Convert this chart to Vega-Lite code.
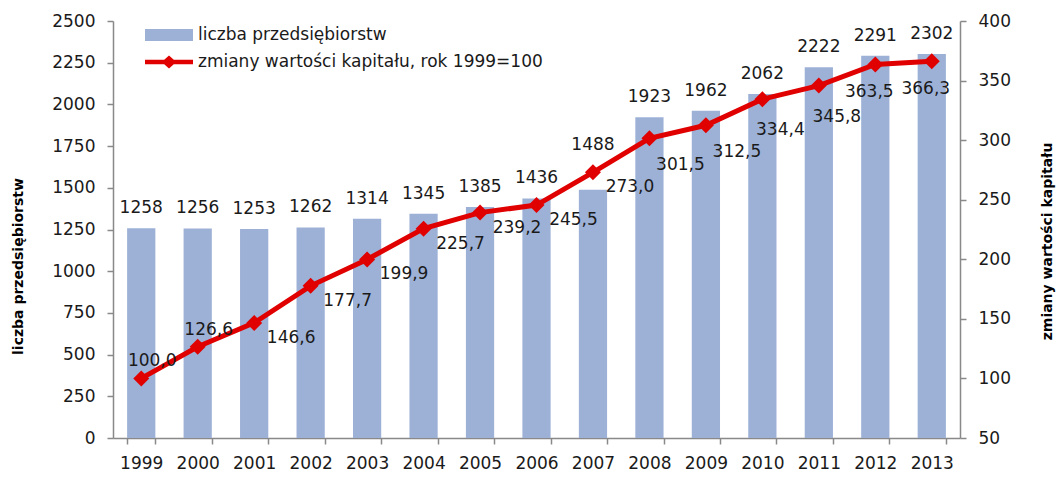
{
  "$schema": "https://vega.github.io/schema/vega-lite/v6.json",
  "width": 847,
  "height": 417,
  "autosize": {"type": "none"},
  "padding": {"left": 113, "top": 21, "right": 97, "bottom": 39},
  "background": "white",
  "config": {
    "view": {"stroke": null},
    "font": "DejaVu Sans",
    "locale": {"number": {"decimal": ",", "thousands": "", "grouping": [3], "currency": ["", " zł"]}},
    "axis": {
      "domainColor": "#898989", "tickColor": "#898989", "domainWidth": 1.5, "tickWidth": 1.5,
      "tickSize": 6, "grid": false, "labelFont": "DejaVu Sans", "labelFontSize": 17,
      "labelColor": "#1a1a1a", "titleFont": "DejaVu Sans", "titleFontSize": 14, "titleFontWeight": "bold", "titleColor": "#000"
    },
    "legend": {"labelFont": "DejaVu Sans", "labelFontSize": 17, "labelColor": "#1a1a1a", "padding": 0, "title": null, "labelLimit": 0}
  },
  "data": {"values": [
    {"year": "1999", "firms": 1258, "capital": 100.0},
    {"year": "2000", "firms": 1256, "capital": 126.6},
    {"year": "2001", "firms": 1253, "capital": 146.6},
    {"year": "2002", "firms": 1262, "capital": 177.7},
    {"year": "2003", "firms": 1314, "capital": 199.9},
    {"year": "2004", "firms": 1345, "capital": 225.7},
    {"year": "2005", "firms": 1385, "capital": 239.2},
    {"year": "2006", "firms": 1436, "capital": 245.5},
    {"year": "2007", "firms": 1488, "capital": 273.0},
    {"year": "2008", "firms": 1923, "capital": 301.5},
    {"year": "2009", "firms": 1962, "capital": 312.5},
    {"year": "2010", "firms": 2062, "capital": 334.4},
    {"year": "2011", "firms": 2222, "capital": 345.8},
    {"year": "2012", "firms": 2291, "capital": 363.5},
    {"year": "2013", "firms": 2302, "capital": 366.3}
  ]},
  "encoding": {
    "x": {
      "field": "year", "type": "ordinal",
      "scale": {"paddingInner": 0.5, "paddingOuter": 0.25},
      "axis": {"title": null, "labelAngle": 0, "tickBand": "extent", "labelPadding": 11, "tickSize": 6}
    }
  },
  "layer": [
    {
      "encoding": {
        "y": {"field": "firms", "type": "quantitative",
          "scale": {"domain": [0, 2500], "nice": false, "zero": true},
          "axis": {"orient": "left", "values": [0,250,500,750,1000,1250,1500,1750,2000,2250,2500],
            "title": "liczba przedsiębiorstw", "titleAngle": -90, "titleX": -95, "titleY": 245, "titleBaseline": "middle", "labelPadding": 12}}
      },
      "layer": [
        {
          "mark": {"type": "bar"},
          "encoding": {
            "color": {"datum": "liczba przedsiębiorstw", "type": "nominal",
              "scale": {"range": ["#9DB1D6"]},
              "legend": {"orient": "none", "legendX": 32, "legendY": -10, "symbolType": "M-1,-0.25H1V0.25H-1Z", "symbolSize": 2304, "symbolStrokeWidth": 0, "labelOffset": 5}}
          }
        },
        {
          "transform": [{"filter": "datum.year != '2007'"}],
          "mark": {"type": "text", "baseline": "middle", "dy": -20, "fontSize": 17, "color": "#1a1a1a"},
          "encoding": {"text": {"field": "firms", "type": "quantitative", "format": "d"}}
        },
        {
          "transform": [{"filter": "datum.year == '2007'"}],
          "mark": {"type": "text", "baseline": "middle", "dy": -45, "fontSize": 17, "color": "#1a1a1a"},
          "encoding": {"text": {"field": "firms", "type": "quantitative", "format": "d"}}
        }
      ]
    },
    {
      "encoding": {
        "y": {"field": "capital", "type": "quantitative",
          "scale": {"domain": [50, 400], "nice": false, "zero": false},
          "axis": {"orient": "right", "values": [50,100,150,200,250,300,350,400],
            "title": "zmiany wartości kapitału", "titleAngle": -90, "titleX": 87, "titleY": 220, "titleBaseline": "middle", "labelPadding": 12}}
      },
      "layer": [
        {
          "mark": {"type": "line", "strokeWidth": 5},
          "encoding": {
            "stroke": {"datum": "zmiany wartości kapitału, rok 1999=100", "type": "nominal",
              "scale": {"range": ["#E00000"]},
              "legend": {"orient": "none", "legendX": 32, "legendY": 17,
                "symbolType": "M-1,-0.09H-0.2L0,-0.27L0.2,-0.09H1V0.09H0.2L0,0.27L-0.2,0.09H-1Z",
                "symbolSize": 2304, "symbolStrokeWidth": 0, "labelOffset": 5,
                "encode": {"symbols": {"update": {"fill": {"value": "#E00000"}, "stroke": {"value": "#E00000"}, "strokeWidth": {"value": 0}}}}}}
          }
        },
        {
          "mark": {"type": "point", "shape": "diamond", "size": 256, "filled": true, "color": "#E00000", "opacity": 1}
        },
        {
          "transform": [{"filter": "datum.year == '1999' || datum.year == '2000'"}],
          "mark": {"type": "text", "baseline": "middle", "align": "center", "dx": 11, "dy": -17, "fontSize": 17, "color": "#1a1a1a"},
          "encoding": {"text": {"field": "capital", "type": "quantitative", "format": ".1f"}}
        },
        {
          "transform": [{"filter": "datum.year >= '2001' && datum.year <= '2007'"}],
          "mark": {"type": "text", "baseline": "middle", "align": "center", "dx": 37, "dy": 15, "fontSize": 17, "color": "#1a1a1a"},
          "encoding": {"text": {"field": "capital", "type": "quantitative", "format": ".1f"}}
        },
        {
          "transform": [{"filter": "datum.year == '2008' || datum.year == '2009'"}],
          "mark": {"type": "text", "baseline": "middle", "align": "center", "dx": 31, "dy": 27, "fontSize": 17, "color": "#1a1a1a"},
          "encoding": {"text": {"field": "capital", "type": "quantitative", "format": ".1f"}}
        },
        {
          "transform": [{"filter": "datum.year == '2010' || datum.year == '2011'"}],
          "mark": {"type": "text", "baseline": "middle", "align": "center", "dx": 18, "dy": 31, "fontSize": 17, "color": "#1a1a1a"},
          "encoding": {"text": {"field": "capital", "type": "quantitative", "format": ".1f"}}
        },
        {
          "transform": [{"filter": "datum.year == '2012' || datum.year == '2013'"}],
          "mark": {"type": "text", "baseline": "middle", "align": "center", "dx": -6, "dy": 28, "fontSize": 17, "color": "#1a1a1a"},
          "encoding": {"text": {"field": "capital", "type": "quantitative", "format": ".1f"}}
        }
      ]
    }
  ],
  "resolve": {"scale": {"y": "independent", "color": "independent", "stroke": "independent"}}
}
